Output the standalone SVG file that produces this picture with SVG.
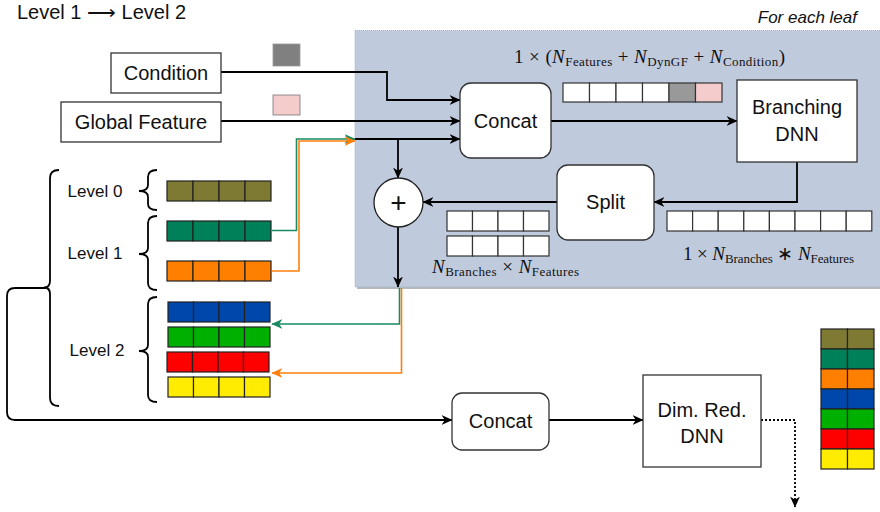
<svg xmlns="http://www.w3.org/2000/svg" width="880" height="512" viewBox="0 0 880 512">
<defs>
<marker id="ah" viewBox="0 0 10 10" refX="9.5" refY="5" markerWidth="11" markerHeight="11" markerUnits="userSpaceOnUse" orient="auto"><path d="M0,0.5 L10,5 L0,9.5 L3,5 z" fill="#000"/></marker>
<marker id="ahg" viewBox="0 0 10 10" refX="9.5" refY="5" markerWidth="11" markerHeight="11" markerUnits="userSpaceOnUse" orient="auto"><path d="M0,0.5 L10,5 L0,9.5 L3,5 z" fill="#1a8a62"/></marker>
<marker id="aho" viewBox="0 0 10 10" refX="9.5" refY="5" markerWidth="11" markerHeight="11" markerUnits="userSpaceOnUse" orient="auto"><path d="M0,0.5 L10,5 L0,9.5 L3,5 z" fill="#ff7f0e"/></marker>
</defs>
<style>
text{font-family:"Liberation Sans",Arial,sans-serif;fill:#111}
.lbl{font-size:20px;text-anchor:middle}
.lv{font-size:17px;text-anchor:middle}
.math{font-family:"Liberation Serif","Times New Roman",serif;font-size:19px}
.mi{font-style:italic}
.sub{font-size:13px}
.box{fill:#fff;stroke:#333;stroke-width:1.3}
.cell{stroke:#222;stroke-width:1.2}
.wc{fill:#fff;stroke:#333;stroke-width:1.2}
.ln{fill:none;stroke:#000;stroke-width:1.8}
.brace{fill:none;stroke:#000;stroke-width:1.8}
.gl{fill:none;stroke:#1a8a62;stroke-width:1.6}
.ol{fill:none;stroke:#ff7f0e;stroke-width:1.6}
</style>
<rect width="880" height="512" fill="#fff"/>

<!-- title -->
<text x="17" y="19" font-size="20">Level 1 ⟶ Level 2</text>
<text x="857" y="23" font-size="17" font-style="italic" text-anchor="end">For each leaf</text>

<!-- leaf region -->
<g id="leaf-region">
<rect x="357" y="32" width="525" height="257" fill="#b9b9b9"/>
<rect x="355" y="30.5" width="527" height="256.5" fill="#bfcadd" stroke="#9db0d3" stroke-width="1" stroke-dasharray="1,1"/>
</g>

<!-- connectors -->
<g id="connectors">
<path class="ln" d="M221,72 H387 V100 H460" marker-end="url(#ah)"/>
<path class="ln" d="M221,121 H460" marker-end="url(#ah)"/>
<path class="ln" d="M355,139 H460" marker-end="url(#ah)"/>
<path class="ln" d="M398,139 V178" marker-end="url(#ah)"/>
<path class="ln" d="M551,121 H737" marker-end="url(#ah)"/>
<path class="ln" d="M797,162 V202 H654" marker-end="url(#ah)"/>
<path class="ln" d="M557,202 H423" marker-end="url(#ah)"/>
<path class="ln" d="M398,227 V287" marker-end="url(#ah)"/>
<path class="gl" d="M272,230.5 H296.5 V139 H355" marker-end="url(#ahg)"/>
<path class="ol" d="M272,271 H299 V141 H355" marker-end="url(#aho)"/>
<path class="gl" d="M399.5,288 V324 H272" marker-end="url(#ahg)"/>
<path class="ol" d="M401.5,288 V373 H272" marker-end="url(#aho)"/>
<path class="ln" d="M46,288 H15 Q7,288 7,296 V412 Q7,420 15,420 H452" marker-end="url(#ah)"/>
<path class="ln" d="M549,420 H643" marker-end="url(#ah)"/>
<path class="ln" d="M761,420 H795 V507" stroke-dasharray="2,2" marker-end="url(#ah)"/>
</g>

<!-- input nodes -->
<g id="condition">
<rect class="box" x="111" y="53" width="110" height="40"/>
<text class="lbl" x="166" y="80">Condition</text>
</g>
<g id="global-feature">
<rect class="box" x="61" y="102" width="160" height="40"/>
<text class="lbl" x="141" y="129">Global Feature</text>
</g>
<g id="cond-token"><rect x="273" y="44" width="27" height="22" fill="#808080" stroke="#999" stroke-width="0.8"/></g>
<g id="gf-token"><rect x="273" y="95" width="27" height="20" fill="#f4cccc" stroke="#777" stroke-width="0.8"/></g>

<!-- concat (top) -->
<g id="concat-top">
<rect class="box" x="460" y="83" width="91" height="75" rx="11"/>
<text class="lbl" x="505.5" y="128">Concat</text>
</g>

<!-- formula -->
<text class="math" x="514" y="63" textLength="271" lengthAdjust="spacing">1 × (<tspan class="mi">N</tspan><tspan class="sub" dy="3">Features</tspan><tspan dy="-3"> + </tspan><tspan class="mi">N</tspan><tspan class="sub" dy="3">DynGF</tspan><tspan dy="-3"> + </tspan><tspan class="mi">N</tspan><tspan class="sub" dy="3">Condition</tspan><tspan dy="-3">)</tspan></text>

<!-- concat vector -->
<g id="concat-vector">
<rect class="wc" x="563" y="83" width="26.5" height="19"/>
<rect class="wc" x="589.5" y="83" width="26.5" height="19"/>
<rect class="wc" x="616" y="83" width="26.5" height="19"/>
<rect class="wc" x="642.5" y="83" width="26.5" height="19"/>
<rect x="669" y="83" width="26.5" height="19" fill="#999" stroke="#333" stroke-width="1.2"/>
<rect x="695.5" y="83" width="26.5" height="19" fill="#f4cccc" stroke="#333" stroke-width="1.2"/>
</g>

<!-- branching DNN -->
<g id="branching-dnn">
<rect class="box" x="737" y="80" width="120" height="82"/>
<text class="lbl" x="797" y="114">Branching</text>
<text class="lbl" x="797" y="141">DNN</text>
</g>

<!-- split -->
<g id="split">
<rect class="box" x="557" y="165" width="97" height="75" rx="11"/>
<text class="lbl" x="605.5" y="209">Split</text>
</g>

<!-- plus -->
<g id="sum">
<circle cx="398.5" cy="202.5" r="24.5" fill="#fff" stroke="#222" stroke-width="1.3"/>
<text x="398.5" y="212" font-size="28" text-anchor="middle">+</text>
</g>

<!-- split output vectors -->
<g id="split-vectors">
<rect class="wc" x="447" y="211" width="25.5" height="20"/>
<rect class="wc" x="472.5" y="211" width="25.5" height="20"/>
<rect class="wc" x="498" y="211" width="25.5" height="20"/>
<rect class="wc" x="523.5" y="211" width="25.5" height="20"/>
<rect class="wc" x="447" y="236" width="25.5" height="20"/>
<rect class="wc" x="472.5" y="236" width="25.5" height="20"/>
<rect class="wc" x="498" y="236" width="25.5" height="20"/>
<rect class="wc" x="523.5" y="236" width="25.5" height="20"/>
</g>
<text class="math" x="432" y="273" textLength="147" lengthAdjust="spacing"><tspan class="mi">N</tspan><tspan class="sub" dy="3">Branches</tspan><tspan dy="-3"> × </tspan><tspan class="mi">N</tspan><tspan class="sub" dy="3">Features</tspan></text>

<!-- branching output vector -->
<g id="branch-vector">
<rect class="wc" x="667" y="211" width="25.6" height="20"/>
<rect class="wc" x="692.6" y="211" width="25.6" height="20"/>
<rect class="wc" x="718.2" y="211" width="25.6" height="20"/>
<rect class="wc" x="743.8" y="211" width="25.6" height="20"/>
<rect class="wc" x="769.4" y="211" width="25.6" height="20"/>
<rect class="wc" x="795" y="211" width="25.6" height="20"/>
<rect class="wc" x="820.6" y="211" width="25.6" height="20"/>
<rect class="wc" x="846.2" y="211" width="25.6" height="20"/>
</g>
<text class="math" x="683" y="260" textLength="171" lengthAdjust="spacing">1 × <tspan class="mi">N</tspan><tspan class="sub" dy="3">Branches</tspan><tspan dy="-3"> ∗ </tspan><tspan class="mi">N</tspan><tspan class="sub" dy="3">Features</tspan></text>

<!-- braces and levels -->
<g id="levels-brace">
<path class="brace" d="M59,170 Q50,170 50,178 V281 Q50,287.5 44,287.5 Q50,287.5 50,294 V398 Q50,406 59,406"/>
</g>
<g id="level0">
<path class="brace" d="M157,170 Q148,170 148,177 V185 Q148,191 139,191 Q148,191 148,197 V204 Q148,210 157,210"/>
<text class="lv" x="95" y="197">Level 0</text>
<g>
<rect class="cell" x="167" y="181" width="26" height="20" fill="#7e7a33"/>
<rect class="cell" x="193" y="181" width="26" height="20" fill="#7e7a33"/>
<rect class="cell" x="219" y="181" width="26" height="20" fill="#7e7a33"/>
<rect class="cell" x="245" y="181" width="26" height="20" fill="#7e7a33"/>
</g>
</g>
<g id="level1">
<path class="brace" d="M157,216 Q148,216 148,223 V248 Q148,254 139,254 Q148,254 148,260 V283 Q148,290 157,290"/>
<text class="lv" x="95" y="259">Level 1</text>
<g>
<rect class="cell" x="167" y="221" width="26" height="20" fill="#008059"/>
<rect class="cell" x="193" y="221" width="26" height="20" fill="#008059"/>
<rect class="cell" x="219" y="221" width="26" height="20" fill="#008059"/>
<rect class="cell" x="245" y="221" width="26" height="20" fill="#008059"/>
<rect class="cell" x="167" y="261" width="26" height="20" fill="#ff7f00"/>
<rect class="cell" x="193" y="261" width="26" height="20" fill="#ff7f00"/>
<rect class="cell" x="219" y="261" width="26" height="20" fill="#ff7f00"/>
<rect class="cell" x="245" y="261" width="26" height="20" fill="#ff7f00"/>
</g>
</g>
<g id="level2">
<path class="brace" d="M157,297 Q148,297 148,304 V345 Q148,351 139,351 Q148,351 148,357 V395 Q148,402 157,402"/>
<text class="lv" x="97" y="356">Level 2</text>
<g>
<rect class="cell" x="168" y="302" width="25.5" height="20" fill="#0047ab"/>
<rect class="cell" x="193.5" y="302" width="25.5" height="20" fill="#0047ab"/>
<rect class="cell" x="219" y="302" width="25.5" height="20" fill="#0047ab"/>
<rect class="cell" x="244.5" y="302" width="25.5" height="20" fill="#0047ab"/>
<rect class="cell" x="168" y="327" width="25.5" height="20" fill="#00b000"/>
<rect class="cell" x="193.5" y="327" width="25.5" height="20" fill="#00b000"/>
<rect class="cell" x="219" y="327" width="25.5" height="20" fill="#00b000"/>
<rect class="cell" x="244.5" y="327" width="25.5" height="20" fill="#00b000"/>
<rect class="cell" x="167" y="352" width="25.5" height="20" fill="#ff0000"/>
<rect class="cell" x="192.5" y="352" width="25.5" height="20" fill="#ff0000"/>
<rect class="cell" x="218" y="352" width="25.5" height="20" fill="#ff0000"/>
<rect class="cell" x="243.5" y="352" width="25.5" height="20" fill="#ff0000"/>
<rect class="cell" x="168" y="377" width="25.5" height="20" fill="#ffec00"/>
<rect class="cell" x="193.5" y="377" width="25.5" height="20" fill="#ffec00"/>
<rect class="cell" x="219" y="377" width="25.5" height="20" fill="#ffec00"/>
<rect class="cell" x="244.5" y="377" width="25.5" height="20" fill="#ffec00"/>
</g>
</g>

<!-- bottom concat -->
<g id="concat-bottom">
<rect class="box" x="452" y="393" width="97" height="57" rx="10"/>
<text class="lbl" x="500.5" y="428">Concat</text>
</g>

<!-- dim red DNN -->
<g id="dim-red-dnn">
<rect class="box" x="643" y="375" width="118" height="92"/>
<text class="lbl" x="702" y="417">Dim. Red.</text>
<text class="lbl" x="702" y="443">DNN</text>
</g>

<!-- output stack -->
<g id="output-stack">
<rect class="cell" x="821" y="329" width="26.5" height="20" fill="#7e7a33"/>
<rect class="cell" x="847.5" y="329" width="26.5" height="20" fill="#7e7a33"/>
<rect class="cell" x="821" y="349" width="26.5" height="20" fill="#008059"/>
<rect class="cell" x="847.5" y="349" width="26.5" height="20" fill="#008059"/>
<rect class="cell" x="821" y="369" width="26.5" height="20" fill="#ff7f00"/>
<rect class="cell" x="847.5" y="369" width="26.5" height="20" fill="#ff7f00"/>
<rect class="cell" x="821" y="389" width="26.5" height="20" fill="#0047ab"/>
<rect class="cell" x="847.5" y="389" width="26.5" height="20" fill="#0047ab"/>
<rect class="cell" x="821" y="409" width="26.5" height="20" fill="#00b000"/>
<rect class="cell" x="847.5" y="409" width="26.5" height="20" fill="#00b000"/>
<rect class="cell" x="821" y="429" width="26.5" height="20" fill="#ff0000"/>
<rect class="cell" x="847.5" y="429" width="26.5" height="20" fill="#ff0000"/>
<rect class="cell" x="821" y="449" width="26.5" height="20" fill="#ffec00"/>
<rect class="cell" x="847.5" y="449" width="26.5" height="20" fill="#ffec00"/>
</g>
</svg>
